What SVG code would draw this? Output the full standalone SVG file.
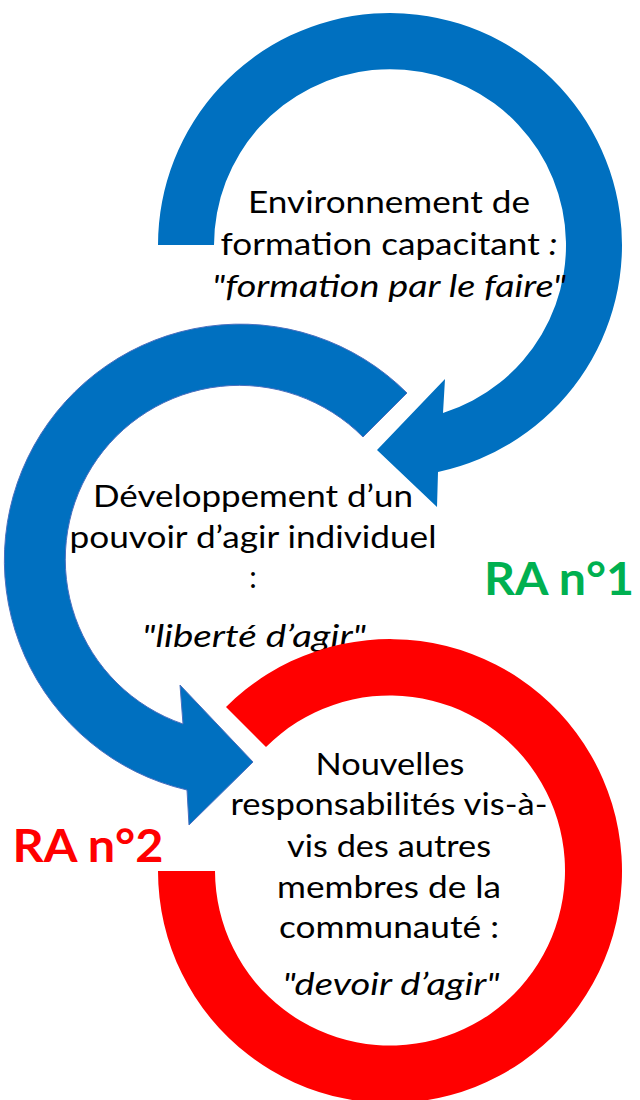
<svg xmlns="http://www.w3.org/2000/svg" width="640" height="1100" viewBox="0 0 640 1100">
  <style>
    .blue { fill: #0070C0; }
    .blue-edge { fill: #0070C0; stroke: #4A6FBF; stroke-width: 1; }
    .red { fill: #FF0000; }
    .lbl { font-family: Lato, "Open Sans", "Liberation Sans", sans-serif; font-size: 30px; fill: #000; text-anchor: middle; }
    .it { font-style: italic; }
    .ra { font-family: Lato, "Liberation Sans", Arial, sans-serif; font-weight: bold; font-size: 45px; text-anchor: middle; }
  </style>
  <rect width="640" height="1100" fill="#FFFFFF"/>

  <!-- Circular arrows -->
  <g id="connectors">
    <!-- upper loop, clockwise, head pointing down-left -->
    <path id="arrow-top" class="blue" d="M 158 245 A 232 232 0 1 1 438 472 L 437 507 L 377 450 L 445 379 L 443 413 A 176 176 0 1 0 214 245 Z"/>
    <!-- middle loop, counter-clockwise, head pointing right -->
    <path id="arrow-middle" class="blue-edge" d="M 407 393 A 236 236 0 1 0 187 790 L 189 825 L 253 762 L 180 685 L 183 724 A 174 174 0 1 1 363 437 Z"/>
  </g>

  <g id="node-environnement">
    <text class="lbl" x="389" y="213" textLength="282" lengthAdjust="spacingAndGlyphs">Environnement de</text>
    <text class="lbl" x="389" y="255" textLength="337" lengthAdjust="spacingAndGlyphs">formation capacitant <tspan class="it">:</tspan></text>
    <text class="lbl it" x="389" y="297" textLength="354" lengthAdjust="spacingAndGlyphs">"formation par le faire"</text>
  </g>

  <g id="node-pouvoir">
    <text class="lbl" x="253" y="507" textLength="320" lengthAdjust="spacingAndGlyphs">Développement d’un</text>
    <text class="lbl" x="253" y="548" textLength="367" lengthAdjust="spacingAndGlyphs">pouvoir d’agir individuel</text>
    <text class="lbl" x="253" y="588">:</text>
    <text class="lbl it" x="254" y="647" textLength="224" lengthAdjust="spacingAndGlyphs">"liberté d’agir"</text>
  </g>

  <!-- red ring drawn over the lower edge of the middle label -->
  <g id="node-responsabilites">
    <path id="ring-red" class="red" d="M 158 871 A 232 232 0 1 0 226 707 L 266 747 A 175 175 0 1 1 215 871 Z"/>
    <text class="lbl" x="390" y="775" textLength="149" lengthAdjust="spacingAndGlyphs">Nouvelles</text>
    <text class="lbl" x="389" y="815" textLength="317" lengthAdjust="spacingAndGlyphs">responsabilités vis-à-</text>
    <text class="lbl" x="389" y="857" textLength="204" lengthAdjust="spacingAndGlyphs">vis des autres</text>
    <text class="lbl" x="389" y="898" textLength="224" lengthAdjust="spacingAndGlyphs">membres de la</text>
    <text class="lbl" x="389" y="938" textLength="220" lengthAdjust="spacingAndGlyphs">communauté :</text>
    <text class="lbl it" x="391" y="995" textLength="217" lengthAdjust="spacingAndGlyphs">"devoir d’agir"</text>
  </g>

  <g id="label-ra1">
    <text class="ra" x="559" y="595" fill="#00B050" textLength="150" lengthAdjust="spacingAndGlyphs">RA n°1</text>
  </g>
  <g id="label-ra2">
    <text class="ra" x="88" y="862" fill="#FF0000" textLength="151" lengthAdjust="spacingAndGlyphs">RA n°2</text>
  </g>
</svg>
